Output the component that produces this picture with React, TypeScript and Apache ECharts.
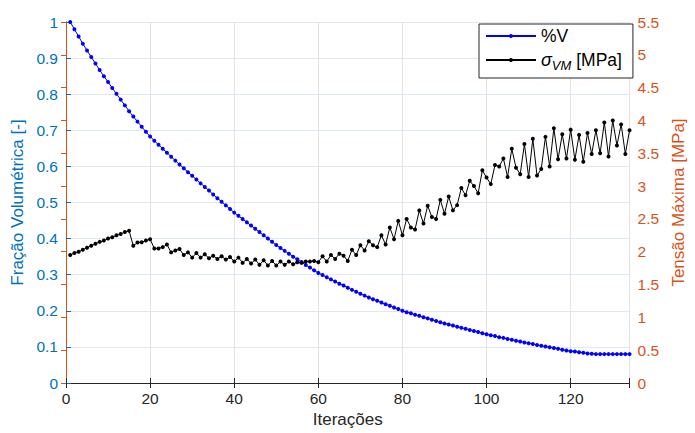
import React, { useEffect, useRef } from "react";
import * as echarts from "echarts";

const volumeFraction: number[] = [
  1.000, 0.980, 0.960, 0.940, 0.921, 0.903, 0.885, 0.867, 0.850, 0.834,
  0.817, 0.801, 0.785, 0.769, 0.753, 0.738, 0.724, 0.710, 0.696, 0.683,
  0.671, 0.660, 0.649, 0.638, 0.627, 0.616, 0.605, 0.595, 0.584, 0.574,
  0.564, 0.553, 0.543, 0.533, 0.522, 0.512, 0.502, 0.492, 0.482, 0.472,
  0.463, 0.454, 0.445, 0.436, 0.427, 0.418, 0.409, 0.400, 0.391, 0.382,
  0.374, 0.366, 0.358, 0.350, 0.343, 0.335, 0.327, 0.320, 0.312, 0.305,
  0.299, 0.293, 0.287, 0.281, 0.275, 0.270, 0.264, 0.258, 0.253, 0.247,
  0.242, 0.237, 0.232, 0.228, 0.223, 0.218, 0.214, 0.209, 0.205, 0.200,
  0.196, 0.193, 0.189, 0.186, 0.182, 0.179, 0.175, 0.172, 0.168, 0.165,
  0.162, 0.159, 0.156, 0.153, 0.150, 0.147, 0.144, 0.141, 0.138, 0.135,
  0.132, 0.130, 0.127, 0.125, 0.122, 0.120, 0.117, 0.115, 0.112, 0.110,
  0.108, 0.105, 0.103, 0.101, 0.099, 0.097, 0.095, 0.092, 0.090, 0.088,
  0.087, 0.085, 0.084, 0.082, 0.081, 0.080, 0.080, 0.080, 0.080, 0.080,
  0.080, 0.080, 0.080, 0.080,
];

const vonMisesStress: number[] = [
  1.95, 1.98, 2.00, 2.03, 2.06, 2.09, 2.12, 2.15, 2.17, 2.20,
  2.22, 2.25, 2.27, 2.30, 2.32, 2.09, 2.14, 2.145, 2.17, 2.19,
  2.05, 2.05, 2.07, 2.11, 1.99, 2.02, 2.04, 1.95, 1.99, 1.91,
  1.98, 1.91, 1.96, 1.90, 1.94, 1.89, 1.93, 1.88, 1.92, 1.85,
  1.91, 1.83, 1.89, 1.82, 1.88, 1.80, 1.87, 1.79, 1.86, 1.79,
  1.85, 1.80, 1.85, 1.81, 1.84, 1.83, 1.85, 1.85, 1.86, 1.84,
  1.93, 1.85, 1.95, 1.89, 1.97, 1.94, 1.86, 2.03, 1.95, 2.10,
  2.02, 2.16, 2.10, 2.07, 2.25, 2.11, 2.37, 2.19, 2.47, 2.25,
  2.50, 2.37, 2.34, 2.63, 2.43, 2.70, 2.53, 2.50, 2.79, 2.58,
  2.84, 2.63, 2.71, 2.97, 2.86, 3.08, 3.00, 2.89, 3.24, 3.13,
  3.03, 3.32, 3.30, 3.42, 3.14, 3.57, 3.28, 3.18, 3.64, 3.14,
  3.72, 3.16, 3.26, 3.75, 3.30, 3.88, 3.41, 3.79, 3.42, 3.86,
  3.40, 3.78, 3.37, 3.81, 3.49, 3.85, 3.50, 3.97, 3.45, 4.00,
  3.62, 3.94, 3.49, 3.85,
];

const xTicks: number[] = [0, 20, 40, 60, 80, 100, 120];
const xLabel = "Iterações";
const yLeftLabel = "Fração Volumétrica [-]";
const yRightLabel = "Tensão Máxima [MPa]";
const seriesNames: string[] = ["%V", "σVM"];

const FONT = "'Liberation Sans', Arial, Helvetica, sans-serif";
const BLUE_AX = "#0072BD";
const ORANGE_AX = "#D95319";
const DARK = "#262626";
const TICK_FS = 15.5;
const NAME_FS = 17;

export default function App() {
  const ref = useRef<HTMLDivElement>(null);
  useEffect(() => {
    if (!ref.current) return;
    const chart = echarts.init(ref.current, undefined, { renderer: "svg" });
    const vfData = volumeFraction.map((v, i) => [i + 1, v]);
    const sData = vonMisesStress.map((v, i) => [i + 1, v]);
    const xLabelFmt = (v: number) => (xTicks.indexOf(v) >= 0 ? String(v) : "");
    chart.setOption({
      animation: false,
      backgroundColor: "#ffffff",
      textStyle: { fontFamily: FONT },
      grid: { left: 66, right: 58, top: 22, bottom: 47 },
      legend: {
        orient: "vertical",
        left: 479,
        top: 24,
        padding: [3, 11, 6, 6],
        itemGap: 6,
        itemWidth: 50,
        itemHeight: 5,
        backgroundColor: "#ffffff",
        borderColor: DARK,
        borderWidth: 1,
        data: seriesNames,
        textStyle: {
          fontFamily: FONT,
          fontSize: 17.5,
          color: "#000",
          rich: {
            sig: { fontSize: 18, fontStyle: "italic", fontFamily: FONT, color: "#000", verticalAlign: "middle", lineHeight: 24 },
            sub: { fontSize: 13, fontStyle: "italic", fontFamily: FONT, color: "#000", verticalAlign: "bottom", lineHeight: 24 },
            txt: { fontSize: 17.5, fontFamily: FONT, color: "#000", verticalAlign: "middle", lineHeight: 24 },
          },
        },
        formatter: (name: string) =>
          name === "σVM" ? "{sig|σ}{sub|VM}{txt| [MPa]}" : "{txt|" + name + "}",
      },
      xAxis: [
        {
          type: "value",
          min: 0,
          max: 134,
          interval: 20,
          name: xLabel,
          nameLocation: "middle",
          nameGap: 28,
          nameTextStyle: { fontSize: NAME_FS, color: DARK, fontFamily: FONT },
          axisLine: { show: true, lineStyle: { color: DARK, width: 1 } },
          axisTick: { show: true, inside: true, length: 5, lineStyle: { color: DARK } },
          axisLabel: { fontSize: TICK_FS, color: DARK, margin: 7, formatter: xLabelFmt, fontFamily: FONT },
          splitLine: { show: true, lineStyle: { color: "#e3e3e3", width: 1 } },
        },
        {
          type: "value",
          position: "top",
          min: 0,
          max: 134,
          interval: 20,
          axisLine: { show: true, lineStyle: { color: DARK, width: 1 } },
          axisTick: { show: true, inside: true, length: 5, lineStyle: { color: DARK } },
          axisLabel: { show: false },
          splitLine: { show: false },
        },
      ],
      yAxis: [
        {
          type: "value",
          position: "left",
          min: 0,
          max: 1,
          interval: 0.1,
          name: yLeftLabel,
          nameLocation: "middle",
          nameGap: 39,
          nameTextStyle: { fontSize: NAME_FS, color: BLUE_AX, fontFamily: FONT },
          axisLine: { show: true, lineStyle: { color: BLUE_AX, width: 1 } },
          axisTick: { show: true, inside: true, length: 5, lineStyle: { color: BLUE_AX } },
          axisLabel: { fontSize: TICK_FS, color: BLUE_AX, margin: 8, fontFamily: FONT },
          splitLine: { show: true, lineStyle: { color: "#dde9f4", width: 1 } },
        },
        {
          type: "value",
          position: "right",
          min: 0,
          max: 5.5,
          interval: 0.5,
          name: yRightLabel,
          nameLocation: "middle",
          nameGap: 39,
          nameTextStyle: { fontSize: NAME_FS, color: ORANGE_AX, fontFamily: FONT },
          axisLine: { show: true, lineStyle: { color: ORANGE_AX, width: 1 } },
          axisTick: { show: true, inside: true, length: 5, lineStyle: { color: ORANGE_AX } },
          axisLabel: { fontSize: TICK_FS, color: ORANGE_AX, margin: 8, fontFamily: FONT },
          splitLine: { show: false },
        },
      ],
      series: [
        {
          name: seriesNames[0],
          type: "line",
          xAxisIndex: 0,
          yAxisIndex: 0,
          data: vfData,
          showAllSymbol: true,
          symbol: "circle",
          symbolSize: 4,
          color: "#0000ff",
          lineStyle: { color: "#0000ff", width: 1 },
          itemStyle: { color: "#0000ff" },
          z: 3,
        },
        {
          name: seriesNames[1],
          type: "line",
          xAxisIndex: 0,
          yAxisIndex: 1,
          data: sData,
          showAllSymbol: true,
          symbol: "circle",
          symbolSize: 4,
          color: "#000000",
          lineStyle: { color: "#000000", width: 1 },
          itemStyle: { color: "#000000" },
          z: 4,
        },
      ],
    });
    return () => chart.dispose();
  }, []);
  return (
    <div
      ref={ref}
      style={{ position: "absolute", left: 0, top: 0, width: 695, height: 433, background: "#fff" }}
    />
  );
}
